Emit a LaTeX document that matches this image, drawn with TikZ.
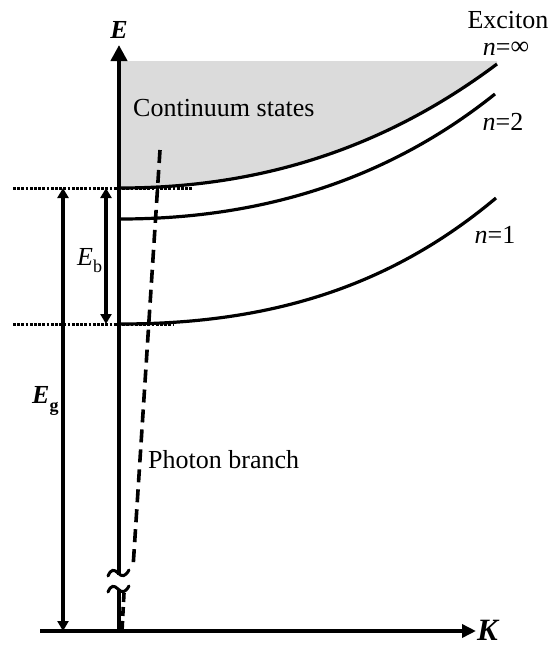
\documentclass[tikz,border=0pt]{standalone}
\usepackage{fontspec}
\setmainfont{Liberation Serif}
\usetikzlibrary{arrows.meta}
\tikzset{
  lbl/.style={font=\fontsize{26}{30}\selectfont, inner sep=0pt},
  axis/.style={line width=4pt, -{Triangle[length=16pt,width=16pt]}},
  kaxis/.style={line width=4pt, -{Triangle[length=14pt,width=13pt]}},
  level/.style={line width=3.2pt},
  gap/.style={line width=3pt, dash pattern=on 2.8pt off 1.4pt},
  dim/.style={line width=3.2pt, {Triangle[length=10pt,width=11pt]}-{Triangle[length=10pt,width=11pt]}},
  photon/.style={line width=3.6pt, dash pattern=on 13pt off 7pt},
  tilde/.style={line width=3pt, line cap=round}
}
\newcommand{\subsz}{\fontsize{18}{20}\selectfont}
\begin{document}
\begin{tikzpicture}[x=1pt,y=-1pt]
\useasboundingbox (0,0) rectangle (551,646);
% shaded continuum
\fill[gray!28] (120,61) -- (497,61) -- (497,64)
  .. controls (377,154) and (250,188) .. (120,188) -- cycle;
% coordinates
\coordinate (o) at (119,631);
\coordinate (etip) at (119,45);
\coordinate (kstart) at (40,631);
\coordinate (ktip) at (476,631);
% dispersion curves
\draw[level] (120,188) .. controls (250,188) and (377,154) .. (497,64);
\draw[level] (120,219) .. controls (250,219) and (380,186) .. (495,94);
\draw[level] (120,324) .. controls (270,324) and (390,287) .. (496,198);
% dotted reference lines
\coordinate (d1a) at (13,188); \coordinate (d1b) at (192,188);
\coordinate (d2a) at (13,324); \coordinate (d2b) at (174,324);
\draw[gap] (d1a) -- (d1b);
\draw[gap] (d2a) -- (d2b);
% dimension arrows
\coordinate (ga) at (63,188); \coordinate (gb) at (63,631);
\coordinate (ba) at (106,188); \coordinate (bb) at (106,324);
\draw[dim] (gb) -- (ga);
\draw[dim] (bb) -- (ba);
% photon branch
\coordinate (pa) at (160,150); \coordinate (pb) at (133,568);
\coordinate (pc) at (124,593); \coordinate (pd) at (122,631);
\draw[photon] (pa) -- (pb);
\draw[photon, dash pattern=on 9pt off 5pt] (pc) -- (pd);
% axes
\draw[axis] (o) -- (etip);
\draw[kaxis] (kstart) -- (ktip);
% break
\fill[white] (104,575) rectangle (142,589);
\draw[tilde] (108,576) .. controls (111,569) and (114,569) .. (118,573) .. controls (122,577) and (125,577) .. (129,570);
\draw[tilde] (108,592) .. controls (111,585) and (114,585) .. (118,589) .. controls (122,593) and (125,593) .. (129,586);
% labels
\node[lbl, anchor=base] (elab) at (119,38) {\textbf{\textit{E}}};
\node[lbl, font=\fontsize{31}{34}\selectfont, anchor=base west] (klab) at (477,640) {\textbf{\textit{K}}};
\node[lbl, anchor=base] (exc) at (508,28) {Exciton};
\node[lbl, anchor=base] (ninf) at (506,55) {\textit{n}=\raisebox{0.5pt}{∞}};
\node[lbl, anchor=base] (n2) at (503,130) {\textit{n}=2};
\node[lbl, anchor=base] (n1) at (495,243) {\textit{n}=1};
\node[lbl, anchor=base west] (cont) at (133,116) {Continuum states};
\node[lbl, anchor=base west] (phot) at (148,468) {Photon branch};
\node[lbl, anchor=base west] (eb) at (77,265) {\textit{E}\raisebox{-7pt}{\subsz b}};
\node[lbl, anchor=base west] (eg) at (32,403) {\textbf{\textit{E}}\raisebox{-8pt}{\subsz\textbf{g}}};
\end{tikzpicture}
\end{document}
